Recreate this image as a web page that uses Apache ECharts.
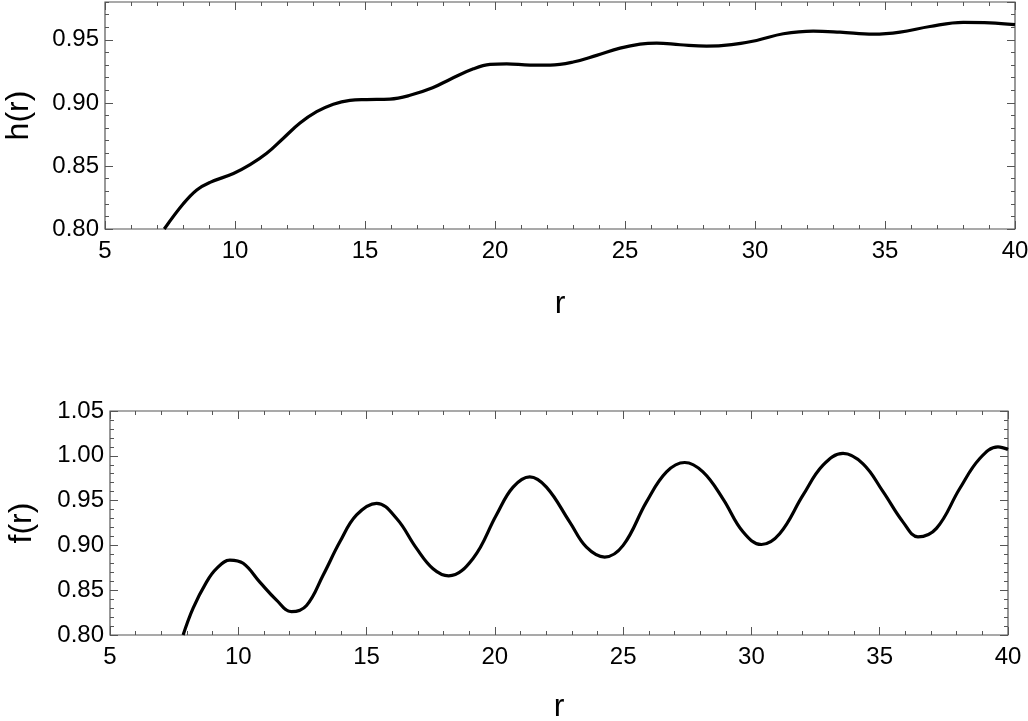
<!DOCTYPE html>
<html lang="en">
<head>
    <meta charset="UTF-8" />
    <title>h(r) and f(r)</title>
    <script src="https://cdn.jsdelivr.net/npm/echarts@6/dist/echarts.min.js"></script>
    <style>
        html, body { margin: 0; padding: 0; background: #fff; }
        #main { width: 1028px; height: 721px; }
    </style>
</head>
<body>
<div id="main"></div>
<script>
// h(r), top panel
let rH = [7.28, 8.01, 8.53, 9.04, 9.94, 10.58, 11.22, 11.86, 12.5, 13.14, 13.78, 14.42, 15.06, 15.96, 16.73,
          17.6, 18.3, 19.17, 19.81, 20.45, 21.35, 22.12, 23.01, 23.91, 24.81, 25.58, 26.22, 27.12, 28.14,
          29.1, 30.06, 31.09, 32.24, 33.27, 34.55, 35.58, 36.73, 38.01, 39.04, 40.0];
let hVals = [0.800, 0.820, 0.831, 0.837, 0.844, 0.851, 0.860, 0.872, 0.884, 0.893, 0.899, 0.902, 0.9026, 0.903, 0.906,
             0.912, 0.919, 0.927, 0.9305, 0.931, 0.930, 0.930, 0.9324, 0.9377, 0.9434, 0.9466, 0.9474, 0.9461, 0.945,
             0.9462, 0.9495, 0.9548, 0.9569, 0.9561, 0.9545, 0.9561, 0.9606, 0.9638, 0.9635, 0.962];

// f(r), bottom panel
let rF = [7.85, 8.24, 8.76, 9.15, 9.67, 10.19, 10.84, 11.49, 12.07, 12.66, 13.31, 13.96, 14.61, 15.39, 16.17,
          16.94, 17.59, 18.2, 19.15, 20.06, 20.71, 21.36, 22.01, 22.92, 23.57, 24.28, 25.0, 25.91, 26.69, 27.4,
          28.11, 28.89, 29.67, 30.39, 31.1, 32.01, 32.79, 33.57, 34.35, 35.13, 35.91, 36.49, 37.21, 38.12,
          38.9, 39.61, 40.0];
let fVals = [0.800, 0.830, 0.859, 0.874, 0.8836, 0.880, 0.859, 0.839, 0.826, 0.833, 0.867, 0.904, 0.934, 0.947, 0.930,
             0.897, 0.874, 0.866, 0.8855, 0.934, 0.965, 0.9765, 0.965, 0.926, 0.898, 0.887, 0.900, 0.9486, 0.982, 0.9925,
             0.982, 0.952, 0.9152, 0.901, 0.913, 0.956, 0.9895, 1.0026, 0.991, 0.960, 0.926, 0.9096, 0.919, 0.9635,
             0.997, 1.010, 1.007];

let xTicks = [5, 10, 15, 20, 25, 30, 35, 40];

let fontFam = "'Liberation Sans', Arial, sans-serif";
let frameColor = '#555';

function pairs(xs, ys) {
    return xs.map((x, i) => [x, ys[i]]);
}

// x axes: bottom one with labels, top one is just the mirrored ticks
function xAxes(grid, nameGap) {
    let base = {
        type: 'value', gridIndex: grid, min: xTicks[0], max: xTicks[xTicks.length - 1], interval: 5,
        axisLine: { show: false },
        splitLine: { show: false },
        axisTick: { inside: true, length: 8, lineStyle: { color: frameColor } },
        minorTick: { show: true, splitNumber: 5, length: 4, lineStyle: { color: frameColor } }
    };
    return [
        Object.assign({}, base, {
            position: 'bottom',
            name: 'r', nameLocation: 'middle', nameGap: nameGap,
            nameTextStyle: { fontSize: 32, color: '#000', fontFamily: fontFam },
            axisLabel: { fontSize: 24, color: '#000', fontFamily: fontFam, margin: 10 }
        }),
        Object.assign({}, base, { position: 'top', axisLabel: { show: false } })
    ];
}

// y axes: major ticks + labels, plus a tick-only axis every 0.01 for minor ticks
function yAxes(grid, lo, hi, title, nameGap) {
    let list = [];
    ['left', 'right'].forEach(side => {
        list.push({
            type: 'value', gridIndex: grid, position: side, min: lo, max: hi, interval: 0.05,
            name: side === 'left' ? title : '', nameLocation: 'middle', nameGap: nameGap,
            nameTextStyle: { fontSize: 32, color: '#000', fontFamily: fontFam },
            axisLine: { show: false },
            splitLine: { show: false },
            axisTick: { inside: true, length: 8, lineStyle: { color: frameColor } },
            axisLabel: {
                show: side === 'left', showMaxLabel: hi === 1.05,
                fontSize: 24, color: '#000', fontFamily: fontFam, margin: 6,
                formatter: v => v.toFixed(2)
            }
        });
        list.push({
            type: 'value', gridIndex: grid, position: side, min: lo, max: hi, interval: 0.01,
            axisLine: { show: false },
            splitLine: { show: false },
            axisLabel: { show: false },
            axisTick: { inside: true, length: 4, lineStyle: { color: frameColor } }
        });
    });
    return list;
}

let myChart = echarts.init(document.getElementById('main'), null, { renderer: 'canvas' });

let yTop = yAxes(0, 0.80, 0.98, 'h(r)', 70);
let yBot = yAxes(1, 0.80, 1.05, 'f(r)', 72);

myChart.setOption({
    animation: false,
    backgroundColor: '#fff',
    grid: [
        { left: 105, right: 13, top: 2, height: 227, outerBoundsMode: 'none', show: true, borderColor: frameColor, borderWidth: 1.2, backgroundColor: 'transparent' },
        { left: 110, right: 20, top: 411, height: 224, outerBoundsMode: 'none', show: true, borderColor: frameColor, borderWidth: 1.2, backgroundColor: 'transparent' }
    ],
    xAxis: xAxes(0, 59).concat(xAxes(1, 56)),
    yAxis: yTop.concat(yBot),
    series: [
        {
            type: 'line', xAxisIndex: 0, yAxisIndex: 0,
            data: pairs(rH, hVals),
            smooth: 0.4, showSymbol: false, clip: true,
            lineStyle: { color: '#000', width: 3.2 }
        },
        {
            type: 'line', xAxisIndex: 2, yAxisIndex: 4,
            data: pairs(rF, fVals),
            smooth: 0.4, showSymbol: false, clip: true,
            lineStyle: { color: '#000', width: 3.2 }
        }
    ]
});
</script>
</body>
</html>
